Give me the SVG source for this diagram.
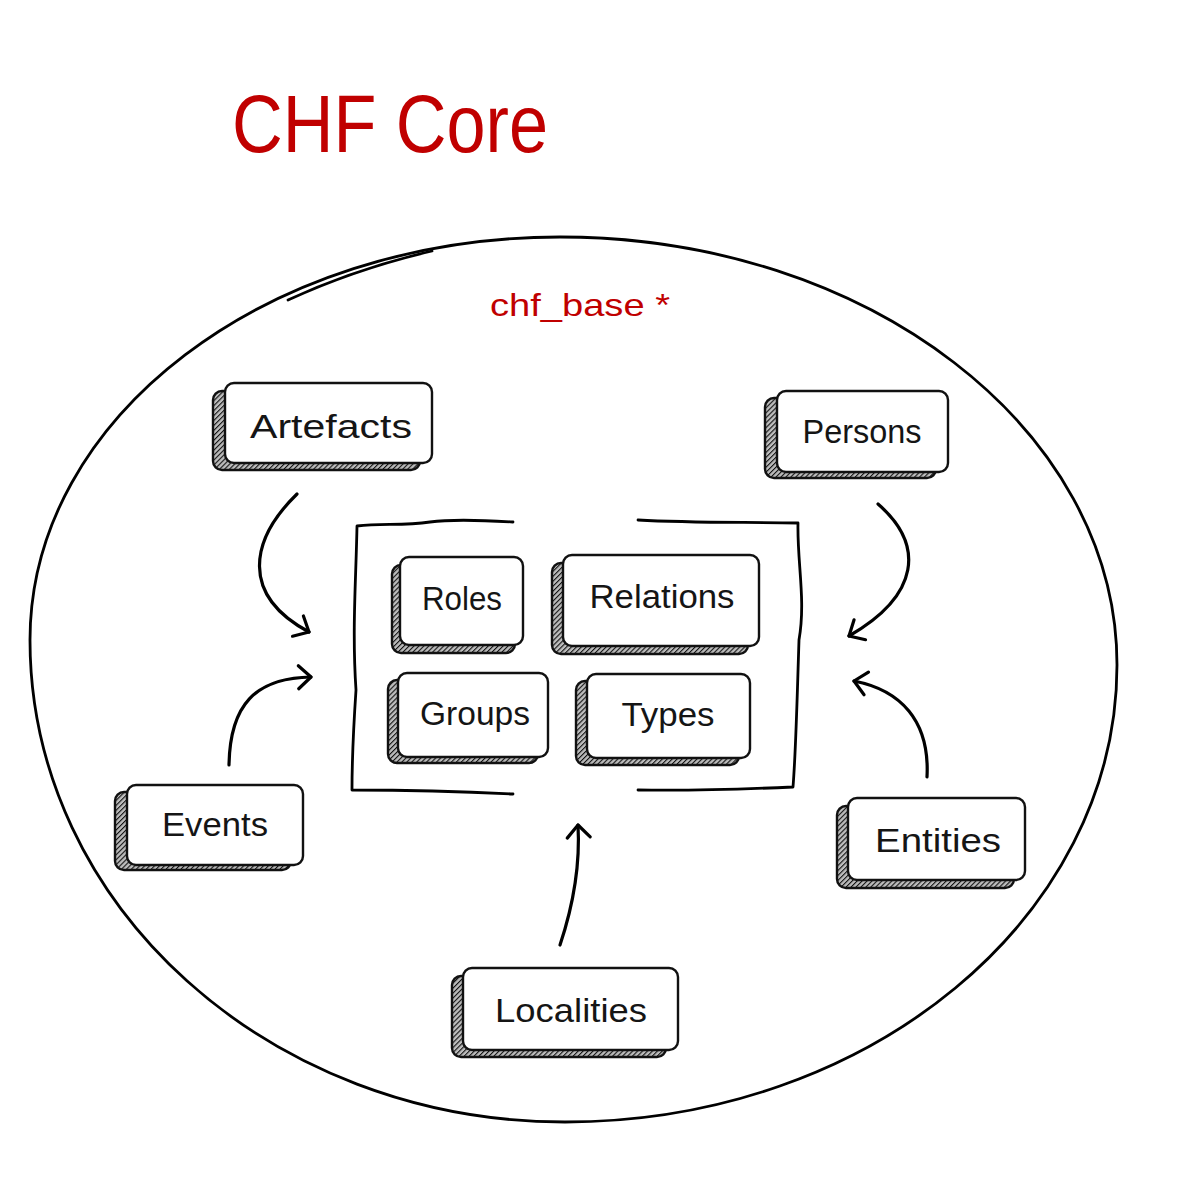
<svg xmlns="http://www.w3.org/2000/svg" width="1186" height="1184" viewBox="0 0 1186 1184">
  <defs>
    <pattern id="hatch" patternUnits="userSpaceOnUse" width="3.5" height="3.5" patternTransform="rotate(45)">
      <rect width="3.5" height="3.5" fill="#bdbdbd"/>
      <line x1="0" y1="0" x2="0" y2="3.5" stroke="#111" stroke-width="2.2"/>
    </pattern>
    <marker id="arrow" markerUnits="userSpaceOnUse" markerWidth="30" markerHeight="30" refX="0" refY="0" viewBox="-16 -15 20 30" orient="auto" overflow="visible">
      <path d="M-12.5,-11.5 L0,0 L-12.5,11.5" fill="none" stroke="#000" stroke-width="3.2" stroke-linecap="round" stroke-linejoin="round"/>
    </marker>
    <style>
      .shadow { fill: url(#hatch); stroke: #111; stroke-width: 2.4; }
      .box { fill: #fff; stroke: #111; stroke-width: 2.4; }
      .lbl { font-family: "Liberation Sans", "DejaVu Sans", sans-serif; font-size: 34px; fill: #151515; text-anchor: middle; }
      .red { font-family: "Liberation Sans", "DejaVu Sans", sans-serif; fill: #c00000; }
      .edge { fill: none; stroke: #000; stroke-width: 3.2; stroke-linecap: round; marker-end: url(#arrow); }
      .outline { fill: none; stroke: #000; stroke-width: 2.8; stroke-linecap: round; stroke-linejoin: round; }
    </style>
  </defs>

  <rect width="1186" height="1184" fill="#fff"/>

  <text class="red" x="232" y="152" font-size="82" textLength="316" lengthAdjust="spacingAndGlyphs">CHF Core</text>

  <g id="chf_base">
    <path class="outline" d="M560,237 C868,237 1117,429 1117,665 C1117,917 870,1122 565,1122 C270,1122 30,906 30,640 C30,417 267,237 560,237 Z"/>
    <path class="outline" stroke-width="2" d="M288,300 C325,283 372,265 432,251"/>
    <text class="red" x="490" y="316" font-size="32" textLength="180" lengthAdjust="spacingAndGlyphs">chf_base *</text>
  </g>

  <g id="core-frame">
    <path class="outline" stroke-width="3" d="M513,522 C480,520 452,519 430,522 C402,526 382,523 357,526 C356,580 352,630 356,690 C353,735 352,765 352,790 C400,790 455,791 513,794"/>
    <path class="outline" stroke-width="3" d="M638,520 C690,523 742,522 798,523 C797,562 806,600 799,640 C797,700 796,750 793,787 C748,789 698,791 638,790"/>
  </g>

  <g id="roles">
    <rect class="shadow" x="392" y="565" width="123" height="88" rx="9"/>
    <rect class="box" x="400" y="557" width="123" height="88" rx="9"/>
    <text class="lbl" x="462" y="610" textLength="80" lengthAdjust="spacingAndGlyphs">Roles</text>
  </g>

  <g id="relations">
    <rect class="shadow" x="552" y="563" width="196" height="91" rx="9"/>
    <rect class="box" x="563" y="555" width="196" height="91" rx="9"/>
    <text class="lbl" x="662" y="608" textLength="145" lengthAdjust="spacingAndGlyphs">Relations</text>
  </g>

  <g id="groups">
    <rect class="shadow" x="388" y="680" width="150" height="83" rx="9"/>
    <rect class="box" x="398" y="673" width="150" height="84" rx="9"/>
    <text class="lbl" x="475" y="725" textLength="110" lengthAdjust="spacingAndGlyphs">Groups</text>
  </g>

  <g id="types">
    <rect class="shadow" x="576" y="681" width="163" height="84" rx="9"/>
    <rect class="box" x="587" y="674" width="163" height="84" rx="9"/>
    <text class="lbl" x="668" y="726" textLength="93" lengthAdjust="spacingAndGlyphs">Types</text>
  </g>

  <g id="artefacts">
    <rect class="shadow" x="213" y="391" width="207" height="79" rx="9"/>
    <rect class="box" x="225" y="383" width="207" height="80" rx="9"/>
    <text class="lbl" x="331" y="438" textLength="162" lengthAdjust="spacingAndGlyphs">Artefacts</text>
  </g>

  <g id="persons">
    <rect class="shadow" x="765" y="398" width="171" height="80" rx="9"/>
    <rect class="box" x="777" y="391" width="171" height="81" rx="9"/>
    <text class="lbl" x="862" y="443" textLength="119" lengthAdjust="spacingAndGlyphs">Persons</text>
  </g>

  <g id="events">
    <rect class="shadow" x="115" y="792" width="176" height="78" rx="9"/>
    <rect class="box" x="127" y="785" width="176" height="80" rx="9"/>
    <text class="lbl" x="215" y="836" textLength="106" lengthAdjust="spacingAndGlyphs">Events</text>
  </g>

  <g id="entities">
    <rect class="shadow" x="837" y="806" width="177" height="82" rx="9"/>
    <rect class="box" x="848" y="798" width="177" height="82" rx="9"/>
    <text class="lbl" x="938" y="852" textLength="126" lengthAdjust="spacingAndGlyphs">Entities</text>
  </g>

  <g id="localities">
    <rect class="shadow" x="452" y="976" width="214" height="81" rx="9"/>
    <rect class="box" x="463" y="968" width="215" height="82" rx="9"/>
    <text class="lbl" x="571" y="1022" textLength="152" lengthAdjust="spacingAndGlyphs">Localities</text>
  </g>

  <g id="connectors">
    <path class="edge" d="M297,494 C250,540 240,595 309,632"/>
    <path class="edge" d="M229,765 C230,705 255,678 311,677"/>
    <path class="edge" d="M878,504 C925,545 920,595 849,636"/>
    <path class="edge" d="M927,777 C930,720 900,690 854,681"/>
    <path class="edge" d="M560,945 C575,900 580,860 578,825"/>
  </g>
</svg>
